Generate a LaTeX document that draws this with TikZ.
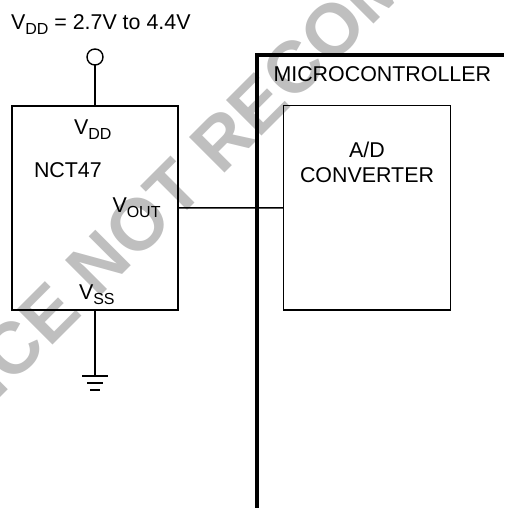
\documentclass[tikz,border=0pt]{standalone}
\usepackage{fontspec}
\setmainfont{Liberation Sans}
\newcommand{\subtxt}[1]{\raisebox{-5pt}{\fontsize{16}{16}\selectfont #1}}
\tikzset{
  x=1pt,y=1pt,
  lbl/.style={inner sep=0pt,outer sep=0pt,anchor=base west,font=\fontsize{21.4}{25}\selectfont},
  block/.style={draw=black,line width=1.5pt,fill=none,inner sep=0pt,outer sep=0pt},
  wire/.style={draw=black,line width=1.4pt},
  mark wm/.style={text=black!25,inner sep=0pt,font=\fontsize{73}{73}\selectfont\bfseries,rotate=45,anchor=base west}
}
\begin{document}
\begin{tikzpicture}
\useasboundingbox (0,0) rectangle (504,-508);
\begin{scope}
\clip (0,0) rectangle (504,-508);
\node[mark wm] (wm) at (-25.6,-423.4) {NCE NOT RECOMM};
\end{scope}
\node[block,minimum width=166pt,minimum height=204pt] (ic) at (95,-208) {};
\node[block,minimum width=167pt,minimum height=204.5pt] (adc) at (367,-207.8) {};
\node[draw=black,line width=1.4pt,circle,minimum size=16pt,inner sep=0pt,outer sep=0pt] (vdd) at (95,-57) {};
\coordinate (gnd) at (95,-375.7);
\coordinate (mtop) at (257,-55);
\coordinate (mbot) at (257,-508);
\coordinate (mright) at (504,-55);
\draw[wire] (vdd) -- (ic.north);
\draw[wire] (ic.south) -- (gnd);
\draw[wire] (ic) -- (adc);
\draw[black,line width=2pt] ([xshift=-13pt]gnd) -- ([xshift=13pt]gnd);
\draw[black,line width=1.6pt] ([xshift=-8pt,yshift=-7pt]gnd) -- ([xshift=8pt,yshift=-7pt]gnd);
\draw[black,line width=1.6pt] ([xshift=-5pt,yshift=-14.5pt]gnd) -- ([xshift=5pt,yshift=-14.5pt]gnd);
\draw[black,line width=3.4pt,line join=miter] (mbot) -- (mtop) -- (mright);
\node[lbl] (t1) at (11,-30) {V\subtxt{DD} = 2.7V to 4.4V};
\node[lbl] (t2) at (74,-135) {V\subtxt{DD}};
\node[lbl] (t3) at (34,-177) {NCT47};
\node[lbl] (t4) at (112.5,-212) {V\subtxt{OUT}};
\node[lbl] (t5) at (79,-299) {V\subtxt{SS}};
\node[lbl] (t6) at (273.5,-82) {MICROCONTROLLER};
\node[lbl,anchor=base] (t7) at (367,-157) {A/D};
\node[lbl,anchor=base] (t8) at (367,-182.7) {CONVERTER};
\end{tikzpicture}
\end{document}
